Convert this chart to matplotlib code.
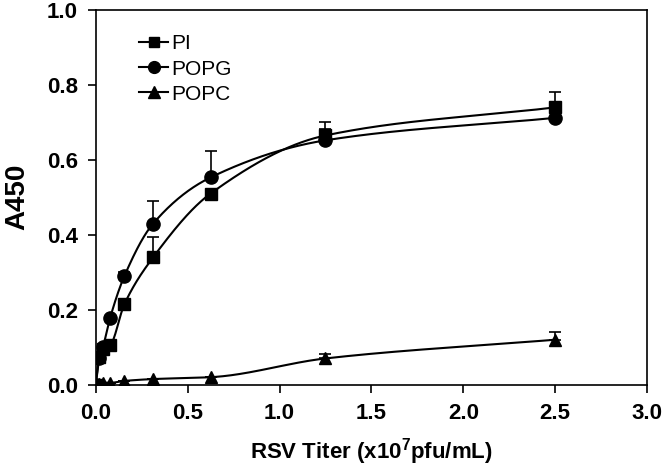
import numpy as np
import matplotlib.pyplot as plt

plt.rcParams['font.family'] = ['Liberation Sans', 'DejaVu Sans']

# RSV titer (x10^7 pfu/mL), two-fold dilutions
titer = [0.0, 0.0195, 0.039, 0.078, 0.156, 0.3125, 0.625, 1.25, 2.5]

pi_vals = [0.0, 0.075, 0.095, 0.105, 0.215, 0.34, 0.51, 0.665, 0.74]
pi_err = [0.0, 0.0, 0.0, 0.01, 0.0, 0.055, 0.0, 0.035, 0.04]

popg_vals = [0.0, 0.07, 0.10, 0.178, 0.29, 0.43, 0.553, 0.652, 0.712]
popg_err = [0.0, 0.0, 0.0, 0.0, 0.01, 0.06, 0.07, 0.03, 0.0]

popc_vals = [0.0, 0.003, 0.005, 0.005, 0.01, 0.015, 0.02, 0.07, 0.12]
popc_err = [0.0, 0.0, 0.0, 0.0, 0.0, 0.0, 0.0, 0.012, 0.02]


def pchip(x, y, xs):
    # monotone cubic hermite curve through the points
    x = np.asarray(x, float)
    y = np.asarray(y, float)
    h = np.diff(x)
    d = np.diff(y) / h
    m = np.zeros_like(y)
    for k in range(1, len(x) - 1):
        if d[k - 1] * d[k] > 0:
            w1 = 2 * h[k] + h[k - 1]
            w2 = h[k] + 2 * h[k - 1]
            m[k] = (w1 + w2) / (w1 / d[k - 1] + w2 / d[k])
    m[0] = d[0]
    m[-1] = d[-1]
    idx = np.clip(np.searchsorted(x, xs) - 1, 0, len(x) - 2)
    t = (xs - x[idx]) / h[idx]
    h00 = 2 * t**3 - 3 * t**2 + 1
    h10 = t**3 - 2 * t**2 + t
    h01 = -2 * t**3 + 3 * t**2
    h11 = t**3 - t**2
    return h00 * y[idx] + h10 * h[idx] * m[idx] + h01 * y[idx + 1] + h11 * h[idx] * m[idx + 1]


fig = plt.figure(figsize=(6.65, 4.72), dpi=100)
ax = fig.add_axes([0.144, 0.185, 0.829, 0.794])

xs = np.linspace(0, 2.5, 800)
series = [
    (pi_vals, pi_err, 's', 'PI', 8.5),
    (popg_vals, popg_err, 'o', 'POPG', 9.5),
    (popc_vals, popc_err, '^', 'POPC', 9),
]
for vals, err, mk, lab, ms in series:
    ax.plot(xs, pchip(titer, vals, xs), color='black', lw=1.5, zorder=2)
    ax.errorbar(titer, vals, yerr=[np.zeros(len(err)), err], fmt='none',
                ecolor='black', elinewidth=1.2, capsize=4, capthick=1.2, zorder=2)
    ax.plot(titer, vals, linestyle='none', marker=mk, color='black', ms=ms, zorder=3)
    ax.plot([], [], color='black', lw=1.5, marker=mk, ms=ms - 1, label=lab)

ax.set_xlim(0, 3.0)
ax.set_ylim(0, 1.0)
ax.set_xticks(np.arange(0, 3.01, 0.5))
ax.set_yticks(np.arange(0, 1.01, 0.2))
ax.xaxis.set_major_formatter(plt.FormatStrFormatter('%.1f'))
ax.yaxis.set_major_formatter(plt.FormatStrFormatter('%.1f'))
ax.tick_params(direction='out', length=6, width=1.2, labelsize=16, pad=7)
for lbl in ax.get_xticklabels() + ax.get_yticklabels():
    lbl.set_fontweight('bold')
for s in ax.spines.values():
    s.set_linewidth(1.2)

ax.set_xlabel(r'RSV Titer (x10$^{\mathregular{7}}$pfu/mL)', fontsize=16, fontweight='bold', labelpad=9)
ax.set_ylabel('A450', fontsize=20, fontweight='bold', labelpad=12)

ax.legend(loc='upper left', bbox_to_anchor=(0.045, 0.985), frameon=False, fontsize=15,
          handlelength=1.4, handletextpad=0.15, labelspacing=0.3)

plt.savefig('out.png', dpi=100)
